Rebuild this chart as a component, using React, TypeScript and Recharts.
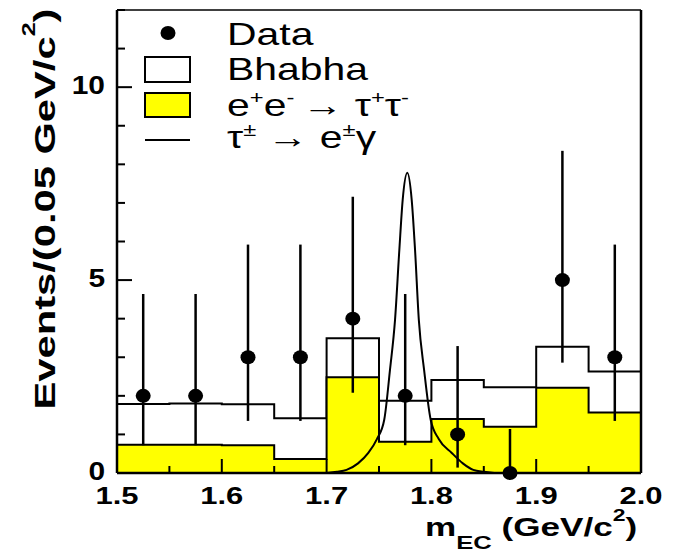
import React from 'react';
import {
  ComposedChart,
  Area,
  Line,
  Scatter,
  ErrorBar,
  XAxis,
  YAxis,
  ReferenceLine,
} from 'recharts';

// ---------- data ----------
const binEdges = [1.5, 1.55, 1.6, 1.65, 1.7, 1.75, 1.8, 1.85, 1.9, 1.95, 2.0];
const tauValues = [0.73, 0.73, 0.72, 0.36, 2.48, 0.81, 1.4, 1.2, 2.21, 1.57];
const bhabhaValues = [1.06, 1.07, 1.06, 1.06, 1.01, 1.06, 1.01, 1.02, 1.06, 1.06];

const dataX = [1.525, 1.575, 1.625, 1.675, 1.725, 1.775, 1.825, 1.875, 1.925, 1.975];
const dataCounts = [2, 2, 3, 3, 4, 2, 1, 0, 5, 3];
const dataErrLow = [1.28, 1.28, 1.65, 1.65, 1.92, 1.28, 0.86, 0, 2.14, 1.65];
const dataErrHigh = [2.64, 2.64, 2.92, 2.92, 3.16, 2.64, 2.29, 1.14, 3.35, 2.92];

const signalX = [1.7, 1.71, 1.719, 1.73, 1.7398, 1.748, 1.755, 1.7605, 1.7653, 1.7694, 1.7726, 1.777, 1.7812, 1.7844, 1.788, 1.793, 1.7993, 1.807, 1.8194, 1.83, 1.84, 1.85, 1.86];
const signalY = [0.0, 0.03, 0.08, 0.25, 0.52, 0.88, 1.38, 2.68, 3.97, 5.78, 7.08, 7.78, 7.08, 5.78, 3.97, 2.68, 1.38, 0.88, 0.52, 0.25, 0.08, 0.03, 0.0];

const xMajorTicks = [1.5, 1.6, 1.7, 1.8, 1.9, 2.0];
const xMinorTicks = [1.55, 1.65, 1.75, 1.85, 1.95];
const xTickLabels = ['1.5', '1.6', '1.7', '1.8', '1.9', '2.0'];
const yTicks = [0, 1, 2, 3, 4, 5, 6, 7, 8, 9, 10, 11, 12];
const yMajorTicks = [0, 5, 10];
const yTickLabels = ['0', '5', '10'];

// ---------- tables built for the library ----------
const histData = binEdges.map((x, i) => {
  const j = Math.min(i, tauValues.length - 1);
  return { x, tau: tauValues[j], total: tauValues[j] + bhabhaValues[j] };
});
const pointData = dataX.map((x, i) => ({
  x,
  y: dataCounts[i],
  err: [dataErrLow[i], dataErrHigh[i]],
}));
const signalData = signalX.map((x, i) => ({ x, y: signalY[i] }));
const allXTicks = [...xMajorTicks, ...xMinorTicks].sort((a, b) => a - b);

const FONT = '"Liberation Sans", Arial, Helvetica, sans-serif';

const XTick = (props: any) => {
  const { x, y, payload } = props;
  const v = payload.value;
  const idx = xMajorTicks.findIndex((t) => Math.abs(t - v) < 1e-9);
  const major = idx >= 0;
  return (
    <g>
      <line x1={x} x2={x} y1={y} y2={y - (major ? 14 : 7)} stroke="#000" strokeWidth={2} />
      {major && (
        <text
          transform={`translate(${x},${y + 31}) scale(1.29,1)`}
          x={0}
          y={0}
          textAnchor="middle"
          fontSize={24}
          fontWeight="bold"
          fontFamily={FONT}
          fill="#000"
        >
          {xTickLabels[idx]}
        </text>
      )}
    </g>
  );
};

const YTick = (props: any) => {
  const { x, y, payload } = props;
  const v = payload.value;
  const idx = yMajorTicks.findIndex((t) => Math.abs(t - v) < 1e-9);
  const major = idx >= 0;
  return (
    <g>
      <line x1={x} x2={x + (major ? 15 : 8)} y1={y} y2={y} stroke="#000" strokeWidth={2} />
      {major && (
        <text
          transform={`translate(${x - 12},${y + 7}) scale(1.15,1)`}
          x={0}
          y={0}
          textAnchor="end"
          fontSize={26}
          fontWeight="bold"
          fontFamily={FONT}
          fill="#000"
        >
          {yTickLabels[idx]}
        </text>
      )}
    </g>
  );
};

const DataDot = (p: any) => <ellipse cx={p.cx} cy={p.cy} rx={7.5} ry={7} fill="#000" />;

const Overlay = () => (
  <svg
    width={684}
    height={554}
    style={{ position: 'absolute', left: 0, top: 0, pointerEvents: 'none' }}
    fontFamily={FONT}
  >
    {/* legend */}
    <ellipse cx={168} cy={33} rx={7.5} ry={7} fill="#000" />
    <rect x={145} y={57} width={45} height={25} fill="#fff" stroke="#000" strokeWidth={2} />
    <rect x={145} y={93} width={45} height={24} fill="#ffff00" stroke="#000" strokeWidth={2} />
    <line x1={145} x2={190} y1={140} y2={140} stroke="#000" strokeWidth={2} />
    <text transform="translate(227,45) scale(1.32,1)" fontSize={31} fill="#000">Data</text>
    <text transform="translate(227,80) scale(1.32,1)" fontSize={31} fill="#000">Bhabha</text>
    <text transform="translate(227,116) scale(1.32,1)" fontSize={31} fill="#000">
      e<tspan dy={-12} fontSize={18}>+</tspan>
      <tspan dy={12}>e</tspan>
      <tspan dy={-12} fontSize={18}>-</tspan>
      <tspan dy={12}>{'\u2009→ τ'}</tspan>
      <tspan dy={-12} fontSize={18}>+</tspan>
      <tspan dy={12}>τ</tspan>
      <tspan dy={-12} fontSize={18}>-</tspan>
    </text>
    <text transform="translate(227,148) scale(1.32,1)" fontSize={31} fill="#000">
      τ<tspan dy={-12} fontSize={18}>±</tspan>
      <tspan dy={12}> → e</tspan>
      <tspan dy={-12} fontSize={18}>±</tspan>
      <tspan dy={12}>γ</tspan>
    </text>
    {/* axis titles */}
    <text transform="translate(425,536) scale(1.35,1)" fontSize={26} fontWeight="bold" fill="#000">
      m<tspan dy={13} fontSize={19}>EC</tspan>
      <tspan dy={-13}> (GeV/c</tspan>
      <tspan dy={-15} fontSize={17}>2</tspan>
      <tspan dy={15}>)</tspan>
    </text>
    <text
      transform="translate(55,209) rotate(-90) scale(1.39,1)"
      textAnchor="middle"
      fontSize={30}
      fontWeight="bold"
      fill="#000"
    >
      Events/(0.05 GeV/c<tspan dy={-20} fontSize={18}>2</tspan>
      <tspan dy={20}>)</tspan>
    </text>
  </svg>
);

export default function App() {
  return (
    <div style={{ position: 'absolute', left: 0, top: 0, width: 684, height: 554, background: '#fff' }}>
      <ComposedChart
        width={684}
        height={554}
        data={histData}
        margin={{ top: 10, right: 43, bottom: 0, left: 0 }}
      >
        <Area
          type="stepAfter"
          dataKey="total"
          stroke="#000"
          strokeWidth={2}
          fill="#ffffff"
          fillOpacity={1}
          dot={false}
          activeDot={false}
          isAnimationActive={false}
        />
        <Area
          type="stepAfter"
          dataKey="tau"
          stroke="#000"
          strokeWidth={2}
          fill="#ffff00"
          fillOpacity={1}
          dot={false}
          activeDot={false}
          isAnimationActive={false}
        />
        <Line
          data={signalData}
          dataKey="y"
          type="monotone"
          stroke="#000"
          strokeWidth={2}
          dot={false}
          activeDot={false}
          isAnimationActive={false}
        />
        <Scatter data={pointData} dataKey="y" shape={DataDot} isAnimationActive={false}>
          <ErrorBar dataKey="err" direction="y" width={0} stroke="#000" strokeWidth={2.5} />
        </Scatter>
        <ReferenceLine y={12} stroke="#000" strokeWidth={1.5} />
        <ReferenceLine x={2.0} stroke="#000" strokeWidth={2.5} />
        <XAxis
          dataKey="x"
          type="number"
          domain={[1.5, 2.0]}
          ticks={allXTicks}
          interval={0}
          tickSize={0}
          tickMargin={0}
          tickLine={false}
          tick={<XTick />}
          axisLine={{ stroke: '#000', strokeWidth: 2.5 }}
          height={81}
        />
        <YAxis
          type="number"
          domain={[0, 12]}
          ticks={yTicks}
          interval={0}
          tickSize={0}
          tickMargin={0}
          tickLine={false}
          tick={<YTick />}
          axisLine={{ stroke: '#000', strokeWidth: 2.5 }}
          width={117}
        />
      </ComposedChart>
      <Overlay />
    </div>
  );
}
